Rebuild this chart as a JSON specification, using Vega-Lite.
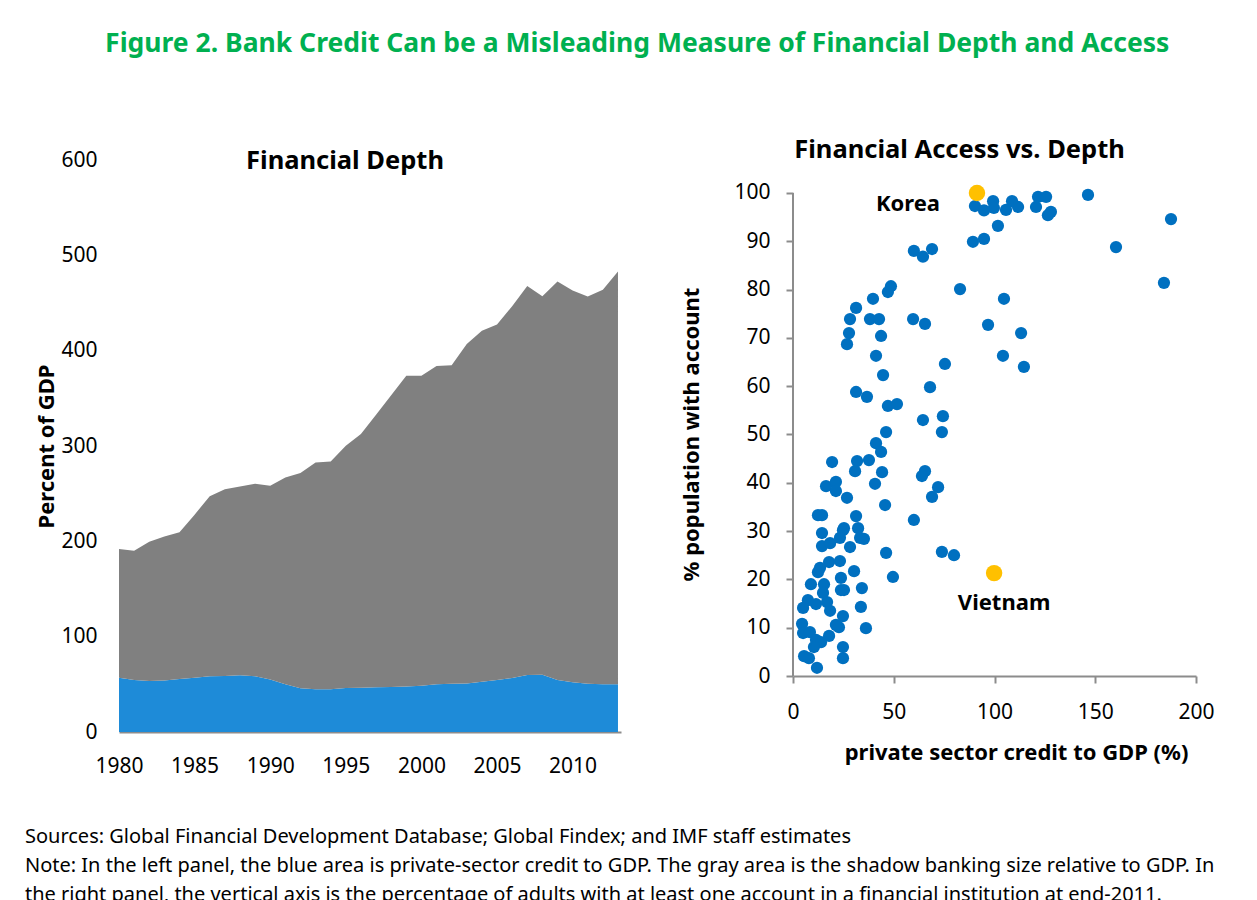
{
  "$schema": "https://vega.github.io/schema/vega-lite/v6.json",
  "padding": {"left": 24, "top": 31, "right": 5, "bottom": 0},
  "background": "white",
  "title": {
    "text": "Figure 2. Bank Credit Can be a Misleading Measure of Financial Depth and Access",
    "color": "#00B050", "fontSize": 26.5, "fontWeight": "bold", "anchor": "middle", "offset": 80, "dx": 15
  },
  "vconcat": [
    {
      "hconcat": [
        {
          "width": 502,
          "height": 572,
          "title": {"text": "Financial Depth", "fontSize": 25.5, "fontWeight": "bold", "offset": -25, "dx": -25},
          "data": {"values": [
            {"year": 1980, "series": "Private-sector credit", "value": 57}, {"year": 1980, "series": "Shadow banking", "value": 135},
            {"year": 1981, "series": "Private-sector credit", "value": 54.5}, {"year": 1981, "series": "Shadow banking", "value": 135.5},
            {"year": 1982, "series": "Private-sector credit", "value": 53.5}, {"year": 1982, "series": "Shadow banking", "value": 146},
            {"year": 1983, "series": "Private-sector credit", "value": 54}, {"year": 1983, "series": "Shadow banking", "value": 151},
            {"year": 1984, "series": "Private-sector credit", "value": 55.6}, {"year": 1984, "series": "Shadow banking", "value": 154},
            {"year": 1985, "series": "Private-sector credit", "value": 57}, {"year": 1985, "series": "Shadow banking", "value": 171},
            {"year": 1986, "series": "Private-sector credit", "value": 58.4}, {"year": 1986, "series": "Shadow banking", "value": 189},
            {"year": 1987, "series": "Private-sector credit", "value": 58.7}, {"year": 1987, "series": "Shadow banking", "value": 196},
            {"year": 1988, "series": "Private-sector credit", "value": 59.4}, {"year": 1988, "series": "Shadow banking", "value": 198},
            {"year": 1989, "series": "Private-sector credit", "value": 58.4}, {"year": 1989, "series": "Shadow banking", "value": 202},
            {"year": 1990, "series": "Private-sector credit", "value": 55.2}, {"year": 1990, "series": "Shadow banking", "value": 203},
            {"year": 1991, "series": "Private-sector credit", "value": 50}, {"year": 1991, "series": "Shadow banking", "value": 217},
            {"year": 1992, "series": "Private-sector credit", "value": 45.8}, {"year": 1992, "series": "Shadow banking", "value": 226},
            {"year": 1993, "series": "Private-sector credit", "value": 44.8}, {"year": 1993, "series": "Shadow banking", "value": 238},
            {"year": 1994, "series": "Private-sector credit", "value": 44.8}, {"year": 1994, "series": "Shadow banking", "value": 239},
            {"year": 1995, "series": "Private-sector credit", "value": 46.2}, {"year": 1995, "series": "Shadow banking", "value": 254},
            {"year": 1996, "series": "Private-sector credit", "value": 46.5}, {"year": 1996, "series": "Shadow banking", "value": 266},
            {"year": 1997, "series": "Private-sector credit", "value": 46.9}, {"year": 1997, "series": "Shadow banking", "value": 286},
            {"year": 1998, "series": "Private-sector credit", "value": 47.2}, {"year": 1998, "series": "Shadow banking", "value": 306},
            {"year": 1999, "series": "Private-sector credit", "value": 47.6}, {"year": 1999, "series": "Shadow banking", "value": 326},
            {"year": 2000, "series": "Private-sector credit", "value": 48.6}, {"year": 2000, "series": "Shadow banking", "value": 325},
            {"year": 2001, "series": "Private-sector credit", "value": 50}, {"year": 2001, "series": "Shadow banking", "value": 334},
            {"year": 2002, "series": "Private-sector credit", "value": 50.7}, {"year": 2002, "series": "Shadow banking", "value": 334},
            {"year": 2003, "series": "Private-sector credit", "value": 51}, {"year": 2003, "series": "Shadow banking", "value": 356},
            {"year": 2004, "series": "Private-sector credit", "value": 52.8}, {"year": 2004, "series": "Shadow banking", "value": 368},
            {"year": 2005, "series": "Private-sector credit", "value": 54.5}, {"year": 2005, "series": "Shadow banking", "value": 373},
            {"year": 2006, "series": "Private-sector credit", "value": 56.6}, {"year": 2006, "series": "Shadow banking", "value": 390},
            {"year": 2007, "series": "Private-sector credit", "value": 59.8}, {"year": 2007, "series": "Shadow banking", "value": 408},
            {"year": 2008, "series": "Private-sector credit", "value": 60.1}, {"year": 2008, "series": "Shadow banking", "value": 397},
            {"year": 2009, "series": "Private-sector credit", "value": 54.5}, {"year": 2009, "series": "Shadow banking", "value": 418},
            {"year": 2010, "series": "Private-sector credit", "value": 52.1}, {"year": 2010, "series": "Shadow banking", "value": 411},
            {"year": 2011, "series": "Private-sector credit", "value": 50.7}, {"year": 2011, "series": "Shadow banking", "value": 406},
            {"year": 2012, "series": "Private-sector credit", "value": 50}, {"year": 2012, "series": "Shadow banking", "value": 414},
            {"year": 2013, "series": "Private-sector credit", "value": 50}, {"year": 2013, "series": "Shadow banking", "value": 433}
          ]},
          "mark": {"type": "area", "opacity": 1},
          "encoding": {
            "x": {
              "field": "year", "type": "quantitative",
              "scale": {"domain": [1980, 2013.2], "nice": false, "zero": false},
              "axis": {"values": [1980, 1985, 1990, 1995, 2000, 2005, 2010], "format": "d", "title": null, "ticks": false, "grid": false,
                       "domainColor": "#8c8c8c", "domainWidth": 2, "labelPadding": 23, "labelFontSize": 21, "labelFlush": false}
            },
            "y": {
              "field": "value", "type": "quantitative", "stack": "zero",
              "scale": {"domain": [0, 600], "nice": false},
              "axis": {"values": [0, 100, 200, 300, 400, 500, 600], "title": "Percent of GDP", "titleFontSize": 22, "titleFontWeight": "bold",
                       "domain": false, "ticks": false, "grid": false, "labelPadding": 22, "labelFontSize": 21, "titlePadding": 2}
            },
            "color": {
              "field": "series", "type": "nominal",
              "scale": {"domain": ["Private-sector credit", "Shadow banking"], "range": ["#1E8BD8", "#808080"]},
              "legend": null
            },
            "order": {"field": "series", "sort": "ascending"}
          }
        },
        {
          "width": 403,
          "height": 516,
          "title": {"text": "Financial Access vs. Depth", "fontSize": 25.5, "fontWeight": "bold", "offset": -3, "dx": -35},
          "data": {"values": [
            {"credit": 90.3, "account": 97.3, "highlight": "other"}, {"credit": 94.8, "account": 96.4, "highlight": "other"},
            {"credit": 99.3, "account": 98.3, "highlight": "other"}, {"credit": 99.7, "account": 96.9, "highlight": "other"},
            {"credit": 108.7, "account": 98.3, "highlight": "other"}, {"credit": 105.7, "account": 96.5, "highlight": "other"},
            {"credit": 111.7, "account": 97.1, "highlight": "other"}, {"credit": 121.6, "account": 99.2, "highlight": "other"},
            {"credit": 125.6, "account": 99.2, "highlight": "other"}, {"credit": 120.6, "account": 97.1, "highlight": "other"},
            {"credit": 128, "account": 96.1, "highlight": "other"}, {"credit": 126.5, "account": 95.4, "highlight": "other"},
            {"credit": 146.4, "account": 99.6, "highlight": "other"}, {"credit": 101.7, "account": 93.2, "highlight": "other"},
            {"credit": 94.8, "account": 90.5, "highlight": "other"}, {"credit": 89.3, "account": 89.9, "highlight": "other"},
            {"credit": 187.6, "account": 94.6, "highlight": "other"}, {"credit": 160.3, "account": 88.8, "highlight": "other"},
            {"credit": 184.1, "account": 81.4, "highlight": "other"}, {"credit": 104.7, "account": 78.1, "highlight": "other"},
            {"credit": 96.8, "account": 72.7, "highlight": "other"}, {"credit": 113.2, "account": 71.0, "highlight": "other"},
            {"credit": 104.2, "account": 66.3, "highlight": "other"}, {"credit": 114.6, "account": 64.0, "highlight": "other"},
            {"credit": 60.0, "account": 88.0, "highlight": "other"}, {"credit": 64.5, "account": 86.8, "highlight": "other"},
            {"credit": 69.0, "account": 88.4, "highlight": "other"}, {"credit": 82.9, "account": 80.1, "highlight": "other"},
            {"credit": 48.6, "account": 80.7, "highlight": "other"}, {"credit": 47.1, "account": 79.5, "highlight": "other"},
            {"credit": 39.7, "account": 78.1, "highlight": "other"}, {"credit": 31.3, "account": 76.2, "highlight": "other"},
            {"credit": 28.3, "account": 73.9, "highlight": "other"}, {"credit": 38.2, "account": 73.9, "highlight": "other"},
            {"credit": 42.7, "account": 73.9, "highlight": "other"}, {"credit": 59.6, "account": 73.9, "highlight": "other"},
            {"credit": 65.5, "account": 72.9, "highlight": "other"}, {"credit": 27.8, "account": 71.0, "highlight": "other"},
            {"credit": 43.7, "account": 70.4, "highlight": "other"}, {"credit": 26.8, "account": 68.7, "highlight": "other"},
            {"credit": 41.2, "account": 66.3, "highlight": "other"}, {"credit": 75.4, "account": 64.6, "highlight": "other"},
            {"credit": 44.7, "account": 62.3, "highlight": "other"}, {"credit": 68.0, "account": 59.8, "highlight": "other"},
            {"credit": 31.3, "account": 58.8, "highlight": "other"}, {"credit": 36.7, "account": 57.8, "highlight": "other"},
            {"credit": 47.1, "account": 55.9, "highlight": "other"}, {"credit": 51.6, "account": 56.3, "highlight": "other"},
            {"credit": 64.5, "account": 53.0, "highlight": "other"}, {"credit": 74.4, "account": 53.8, "highlight": "other"},
            {"credit": 73.9, "account": 50.5, "highlight": "other"}, {"credit": 46.2, "account": 50.5, "highlight": "other"},
            {"credit": 41.2, "account": 48.2, "highlight": "other"}, {"credit": 43.7, "account": 46.4, "highlight": "other"},
            {"credit": 19.4, "account": 44.3, "highlight": "other"}, {"credit": 31.8, "account": 44.5, "highlight": "other"},
            {"credit": 37.7, "account": 44.7, "highlight": "other"}, {"credit": 30.8, "account": 42.4, "highlight": "other"},
            {"credit": 44.2, "account": 42.2, "highlight": "other"}, {"credit": 65.5, "account": 42.4, "highlight": "other"},
            {"credit": 64.0, "account": 41.4, "highlight": "other"}, {"credit": 72.0, "account": 39.1, "highlight": "other"},
            {"credit": 69.0, "account": 37.1, "highlight": "other"}, {"credit": 16.4, "account": 39.3, "highlight": "other"},
            {"credit": 21.3, "account": 40.2, "highlight": "other"}, {"credit": 21.3, "account": 38.3, "highlight": "other"},
            {"credit": 40.7, "account": 39.8, "highlight": "other"}, {"credit": 26.8, "account": 36.9, "highlight": "other"},
            {"credit": 45.7, "account": 35.4, "highlight": "other"}, {"credit": 60.0, "account": 32.3, "highlight": "other"},
            {"credit": 12.4, "account": 33.3, "highlight": "other"}, {"credit": 14.4, "account": 33.3, "highlight": "other"},
            {"credit": 31.3, "account": 33.1, "highlight": "other"}, {"credit": 25.3, "account": 30.6, "highlight": "other"},
            {"credit": 32.3, "account": 30.6, "highlight": "other"}, {"credit": 14.4, "account": 29.6, "highlight": "other"},
            {"credit": 24.8, "account": 30.2, "highlight": "other"}, {"credit": 23.3, "account": 28.6, "highlight": "other"},
            {"credit": 14.4, "account": 26.9, "highlight": "other"}, {"credit": 18.4, "account": 27.5, "highlight": "other"},
            {"credit": 28.3, "account": 26.7, "highlight": "other"}, {"credit": 33.3, "account": 28.6, "highlight": "other"},
            {"credit": 35.2, "account": 28.4, "highlight": "other"}, {"credit": 46.2, "account": 25.5, "highlight": "other"},
            {"credit": 73.9, "account": 25.7, "highlight": "other"}, {"credit": 79.9, "account": 25.0, "highlight": "other"},
            {"credit": 49.6, "account": 20.5, "highlight": "other"}, {"credit": 17.9, "account": 23.6, "highlight": "other"},
            {"credit": 23.3, "account": 23.8, "highlight": "other"}, {"credit": 12.4, "account": 21.5, "highlight": "other"},
            {"credit": 13.4, "account": 22.4, "highlight": "other"}, {"credit": 8.9, "account": 19.0, "highlight": "other"},
            {"credit": 15.4, "account": 19.0, "highlight": "other"}, {"credit": 23.8, "account": 20.3, "highlight": "other"},
            {"credit": 30.3, "account": 21.7, "highlight": "other"}, {"credit": 23.8, "account": 17.8, "highlight": "other"},
            {"credit": 25.3, "account": 17.8, "highlight": "other"}, {"credit": 34.2, "account": 18.2, "highlight": "other"},
            {"credit": 14.9, "account": 17.2, "highlight": "other"}, {"credit": 7.4, "account": 15.7, "highlight": "other"},
            {"credit": 11.4, "account": 14.9, "highlight": "other"}, {"credit": 16.9, "account": 15.3, "highlight": "other"},
            {"credit": 18.4, "account": 13.5, "highlight": "other"}, {"credit": 5.0, "account": 14.1, "highlight": "other"},
            {"credit": 33.7, "account": 14.3, "highlight": "other"}, {"credit": 24.8, "account": 12.4, "highlight": "other"},
            {"credit": 21.3, "account": 10.6, "highlight": "other"}, {"credit": 22.8, "account": 10.1, "highlight": "other"},
            {"credit": 17.9, "account": 8.3, "highlight": "other"}, {"credit": 36.2, "account": 9.9, "highlight": "other"},
            {"credit": 4.5, "account": 10.8, "highlight": "other"}, {"credit": 5.0, "account": 8.9, "highlight": "other"},
            {"credit": 8.4, "account": 9.1, "highlight": "other"}, {"credit": 11.4, "account": 7.5, "highlight": "other"},
            {"credit": 13.9, "account": 7.0, "highlight": "other"}, {"credit": 10.4, "account": 6.0, "highlight": "other"},
            {"credit": 24.8, "account": 6.0, "highlight": "other"}, {"credit": 5.5, "account": 4.1, "highlight": "other"},
            {"credit": 7.9, "account": 3.7, "highlight": "other"}, {"credit": 24.8, "account": 3.7, "highlight": "other"},
            {"credit": 11.9, "account": 1.7, "highlight": "other"},
            {"credit": 91.3, "account": 100, "highlight": "Korea"},
            {"credit": 99.8, "account": 21.3, "highlight": "Vietnam"}
          ]},
          "layer": [
            {
              "data": {"values": [{}]},
              "mark": {"type": "rule", "color": "#8c8c8c", "strokeWidth": 2},
              "encoding": {
                "x": {"datum": 0, "type": "quantitative"},
                "y": {"datum": 0, "type": "quantitative"},
                "y2": {"datum": 100}
              }
            },
            {
              "transform": [{"filter": "datum.highlight == 'other'"}],
              "mark": {"type": "circle", "size": 150, "opacity": 1, "color": "#0070C0"},
              "encoding": {
                "x": {
                  "field": "credit", "type": "quantitative",
                  "scale": {"domain": [0, 200], "nice": false},
                  "axis": {"values": [0, 50, 100, 150, 200], "title": "private sector credit to GDP (%)", "titleFontSize": 22, "titleFontWeight": "bold",
                           "grid": false, "domainColor": "#8c8c8c", "domainWidth": 2, "tickColor": "#8c8c8c", "tickWidth": 2, "tickSize": 7,
                           "labelPadding": 18, "labelFontSize": 21, "titlePadding": 20, "labelFlush": false, "titleX": 223}
                },
                "y": {
                  "field": "account", "type": "quantitative",
                  "scale": {"domain": [0, 106.83], "nice": false},
                  "axis": {"values": [0, 10, 20, 30, 40, 50, 60, 70, 80, 90, 100], "title": "% population with account", "titleFontSize": 22, "titleFontWeight": "bold",
                           "grid": false, "domain": false, "tickColor": "#8c8c8c", "tickWidth": 2, "tickSize": 7,
                           "labelPadding": 16, "labelFontSize": 21, "titlePadding": 30, "titleY": 274}
                }
              }
            },
            {
              "transform": [{"filter": "datum.highlight != 'other'"}],
              "mark": {"type": "circle", "size": 270, "opacity": 1, "color": "#FFC000"},
              "encoding": {
                "x": {"field": "credit", "type": "quantitative"},
                "y": {"field": "account", "type": "quantitative"}
              }
            },
            {
              "transform": [{"filter": "datum.highlight == 'Korea'"}],
              "mark": {"type": "text", "dx": -69, "dy": 11, "fontSize": 22, "fontWeight": "bold", "color": "black"},
              "encoding": {
                "x": {"field": "credit", "type": "quantitative"},
                "y": {"field": "account", "type": "quantitative"},
                "text": {"field": "highlight"}
              }
            },
            {
              "transform": [{"filter": "datum.highlight == 'Vietnam'"}],
              "mark": {"type": "text", "dx": 10, "dy": 30, "fontSize": 22, "fontWeight": "bold", "color": "black"},
              "encoding": {
                "x": {"field": "credit", "type": "quantitative"},
                "y": {"field": "account", "type": "quantitative"},
                "text": {"field": "highlight"}
              }
            }
          ]
        }
      ],
      "spacing": 172,
      "bounds": "flush",
      "title": {
        "text": [
          "Sources: Global Financial Development Database; Global Findex; and IMF staff estimates",
          "Note: In the left panel, the blue area is private-sector credit to GDP. The gray area is the shadow banking size relative to GDP.  In",
          "the right panel, the vertical axis is the percentage of adults with at least one account in a financial institution at end-2011."
        ],
        "orient": "bottom", "anchor": "start", "fontSize": 20, "fontWeight": "normal", "lineHeight": 29, "offset": 51, "color": "black", "dx": -11
      }
    }
  ],
  "config": {
    "font": "Noto Sans",
    "view": {"stroke": null},
    "axis": {"labelColor": "#000000", "titleColor": "#000000", "labelFont": "Noto Sans", "titleFont": "Noto Sans"},
    "title": {"font": "Noto Sans", "color": "#000000"},
    "text": {"font": "Noto Sans"}
  }
}
